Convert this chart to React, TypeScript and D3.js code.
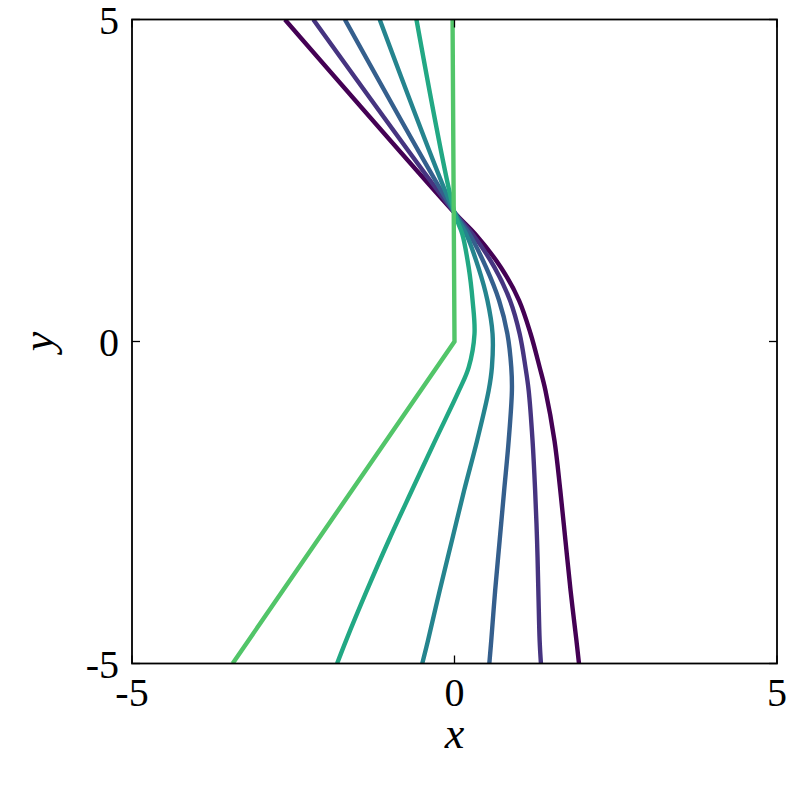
import React, { useRef, useEffect } from "react";
import * as d3 from "d3";

// y positions where the curves were read
const yLevels = [5, 2, 1.67, 1.15, 0.64, 0.12, -0.4, -0.76, -1.54, -2.31, -3.09, -3.87, -4.64, -5];

// x values of each curve at yLevels
const curveA = [-2.63, 0, 0.32, 0.72, 1.0, 1.18, 1.32, 1.41, 1.55, 1.64, 1.72, 1.8, 1.89, 1.93];
const curveB = [-2.19, 0, 0.28, 0.62, 0.86, 1.01, 1.1, 1.15, 1.21, 1.25, 1.28, 1.3, 1.32, 1.34];
const curveC = [-1.7, 0, 0.23, 0.49, 0.69, 0.82, 0.88, 0.89, 0.84, 0.77, 0.7, 0.63, 0.57, 0.54];
const curveD = [-1.16, 0, 0.18, 0.37, 0.51, 0.59, 0.58, 0.53, 0.35, 0.15, -0.04, -0.23, -0.41, -0.5];
const curveE = [-0.59, 0, 0.12, 0.22, 0.28, 0.31, 0.22, 0.07, -0.3, -0.66, -1.02, -1.36, -1.68, -1.82];

// last curve has a sharp corner at the origin
const cornerY = [5, 0, -5];
const cornerX = [-0.03, 0, -3.44];

const colorSteps = [0, 0.15, 0.3, 0.45, 0.6, 0.73];
const ticks = [-5, 0, 5];

const App = () => {
  const svgRef = useRef<SVGSVGElement>(null);

  useEffect(() => {
    const width = 797;
    const height = 797;
    const left = 132;
    const right = 777;
    const top = 19.5;
    const bottom = 663.5;
    const font = "'Liberation Serif', 'Times New Roman', serif";

    const svg = d3.select(svgRef.current).attr("width", width).attr("height", height);
    svg.selectAll("*").remove();

    const x = d3.scaleLinear().domain([-5, 5]).range([left, right]);
    const y = d3.scaleLinear().domain([-5, 5]).range([bottom, top]);

    svg
      .append("defs")
      .append("clipPath")
      .attr("id", "plot-clip")
      .append("rect")
      .attr("x", left)
      .attr("y", top)
      .attr("width", right - left)
      .attr("height", bottom - top);

    const smooth = d3
      .line<[number, number]>()
      .x((d) => x(d[0]))
      .y((d) => y(d[1]))
      .curve(d3.curveCatmullRom.alpha(0.5));

    const straight = d3
      .line<[number, number]>()
      .x((d) => x(d[0]))
      .y((d) => y(d[1]));

    const plot = svg.append("g").attr("clip-path", "url(#plot-clip)");

    const series = [curveA, curveB, curveC, curveD, curveE];
    series.forEach((xs, i) => {
      const pts = xs.map((v, j) => [v, yLevels[j]] as [number, number]);
      plot
        .append("path")
        .attr("d", smooth(pts))
        .attr("fill", "none")
        .attr("stroke", d3.interpolateViridis(colorSteps[i]))
        .attr("stroke-width", 4.4)
        .attr("stroke-linejoin", "round");
    });

    const cornerPts = cornerX.map((v, j) => [v, cornerY[j]] as [number, number]);
    plot
      .append("path")
      .attr("d", straight(cornerPts))
      .attr("fill", "none")
      .attr("stroke", d3.interpolateViridis(colorSteps[5]))
      .attr("stroke-width", 4.4)
      .attr("stroke-linejoin", "miter");

    // frame
    svg
      .append("rect")
      .attr("x", left)
      .attr("y", top)
      .attr("width", right - left)
      .attr("height", bottom - top)
      .attr("fill", "none")
      .attr("stroke", "#000")
      .attr("stroke-width", 1.8);

    // inward ticks on all four sides
    const tickLen = 8;
    ticks.forEach((t) => {
      svg.append("line").attr("x1", x(t)).attr("x2", x(t)).attr("y1", bottom).attr("y2", bottom - tickLen).attr("stroke", "#000").attr("stroke-width", 1.3);
      svg.append("line").attr("x1", x(t)).attr("x2", x(t)).attr("y1", top).attr("y2", top + tickLen).attr("stroke", "#000").attr("stroke-width", 1.3);
      svg.append("line").attr("x1", left).attr("x2", left + tickLen).attr("y1", y(t)).attr("y2", y(t)).attr("stroke", "#000").attr("stroke-width", 1.3);
      svg.append("line").attr("x1", right).attr("x2", right - tickLen).attr("y1", y(t)).attr("y2", y(t)).attr("stroke", "#000").attr("stroke-width", 1.3);
    });

    // tick labels
    svg
      .selectAll(".xtick")
      .data(ticks)
      .enter()
      .append("text")
      .attr("x", (d) => x(d))
      .attr("y", 706)
      .attr("text-anchor", "middle")
      .style("font-family", font)
      .style("font-size", "40px")
      .text((d) => String(d));

    svg
      .selectAll(".ytick")
      .data(ticks)
      .enter()
      .append("text")
      .attr("x", 119)
      .attr("y", (d) => y(d) + 14)
      .attr("text-anchor", "end")
      .style("font-family", font)
      .style("font-size", "40px")
      .text((d) => String(d));

    // axis labels
    svg
      .append("text")
      .attr("x", (left + right) / 2)
      .attr("y", 748)
      .attr("text-anchor", "middle")
      .style("font-family", font)
      .style("font-style", "italic")
      .style("font-size", "44px")
      .text("x");

    svg
      .append("text")
      .attr("transform", `translate(53,${(top + bottom) / 2}) rotate(-90)`)
      .attr("text-anchor", "middle")
      .style("font-family", font)
      .style("font-style", "italic")
      .style("font-size", "44px")
      .text("y");
  }, []);

  return (
    <div style={{ position: "absolute", left: 0, top: 0, width: 797, height: 797, background: "#fff" }}>
      <svg ref={svgRef} style={{ display: "block" }}></svg>
    </div>
  );
};

export default App;
